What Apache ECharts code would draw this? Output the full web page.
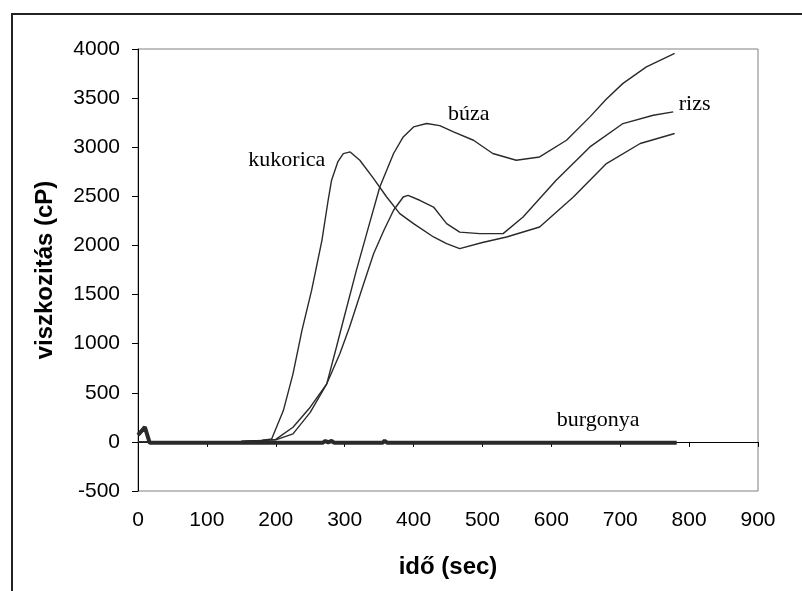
<!DOCTYPE html>
<html>
<head>
<meta charset="utf-8">
<script src="https://cdn.jsdelivr.net/npm/echarts@6/dist/echarts.min.js"></script>
<style>
html,body{margin:0;padding:0;background:#fff;}
#chart{width:802px;height:591px;}
</style>
</head>
<body>
<div id="chart"></div>
<script>
// ---- data (time in sec, viscosity in cP) ----
const kukoricaT = [0, 100, 150, 180, 194, 211, 225, 238, 252, 267, 276, 281, 290, 298, 308, 322, 341, 361, 380, 400, 429, 448, 467, 500, 535, 583, 632, 680, 729, 779];
const kukoricaV = [0, 0, 5, 15, 30, 319, 693, 1135, 1542, 2052, 2460, 2664, 2850, 2935, 2952, 2867, 2690, 2493, 2324, 2222, 2086, 2018, 1967, 2030, 2086, 2188, 2493, 2834, 3038, 3140];

const buzaT = [0, 100, 150, 180, 200, 225, 250, 274, 288, 298, 317, 336, 351, 371, 385, 400, 419, 438, 458, 487, 515, 549, 583, 622, 656, 680, 704, 738, 779];
const buzaV = [0, 0, 5, 15, 20, 82, 300, 591, 964, 1236, 1746, 2222, 2595, 2936, 3105, 3207, 3242, 3220, 3156, 3071, 2936, 2867, 2901, 3071, 3309, 3490, 3650, 3818, 3955];

const rizsT = [0, 100, 150, 180, 200, 225, 250, 274, 293, 307, 326, 342, 357, 371, 385, 392, 409, 429, 448, 467, 496, 530, 559, 607, 656, 704, 748, 777];
const rizsV = [0, 0, 5, 15, 25, 149, 353, 591, 897, 1168, 1576, 1916, 2154, 2358, 2493, 2510, 2460, 2391, 2222, 2136, 2120, 2120, 2290, 2663, 3003, 3241, 3326, 3360];

const burgonyaT = [0, 2, 5, 7, 10, 17, 95, 97, 100, 141, 143, 146, 268, 272, 276, 281, 285, 290, 355, 358, 362, 782];
const burgonyaV = [70, 80, 110, 90, 150, -10, -10, -25, -10, -10, -22, -10, -10, 10, -5, 10, -10, -10, -10, 12, -10, -10];

const xTicks = [0, 100, 200, 300, 400, 500, 600, 700, 800, 900];
const yTicks = [-500, 0, 500, 1000, 1500, 2000, 2500, 3000, 3500, 4000];

const labelNames = ['kukorica', 'búza', 'rizs', 'burgonya'];
const labelX = [216, 480, 808, 668];
const labelY = [2867, 3331, 3433, 220];

function zip(t, v) { return t.map((x, i) => [x, v[i]]); }

const chart = echarts.init(document.getElementById('chart'), null, {renderer: 'canvas'});

const lineCol = '#2a2a2a';
const serif = '"Liberation Serif", "Times New Roman", serif';
const sans = '"Liberation Sans", Arial, sans-serif';

function mkSeries(name, t, v, width, idx) {
  return {
    name: name,
    type: 'line',
    xAxisIndex: 0,
    yAxisIndex: 0,
    data: zip(t, v),
    showSymbol: false,
    symbol: 'none',
    smooth: false,
    lineStyle: {color: lineCol, width: width},
    z: 3,
    markPoint: {
      symbol: 'circle',
      symbolSize: 0,
      silent: true,
      data: [{coord: [labelX[idx], labelY[idx]], value: labelNames[idx]}],
      label: {
        show: true,
        position: 'inside',
        formatter: labelNames[idx],
        fontFamily: serif,
        fontSize: 22,
        color: '#000'
      },
      itemStyle: {color: 'transparent'}
    }
  };
}

const option = {
  animation: false,
  backgroundColor: '#fff',
  grid: {
    left: 138, top: 49, width: 620, height: 442,
    show: true, borderColor: '#808080', borderWidth: 1, backgroundColor: 'transparent',
    containLabel: false
  },
  xAxis: [
    {
      type: 'value', min: xTicks[0], max: xTicks[xTicks.length - 1], interval: 100,
      position: 'bottom',
      axisLine: {show: false, onZero: false},
      axisTick: {show: false},
      splitLine: {show: false},
      axisLabel: {fontFamily: sans, fontSize: 21, color: '#000', margin: 19, formatter: v => String(v)},
      name: 'idő (sec)', nameLocation: 'middle', nameGap: 64,
      nameTextStyle: {fontFamily: sans, fontSize: 24, fontWeight: 'bold', color: '#000'}
    },
    {
      type: 'value', min: xTicks[0], max: xTicks[xTicks.length - 1], interval: 100,
      position: 'bottom',
      axisLine: {show: true, onZero: true, lineStyle: {color: '#000', width: 1}},
      axisTick: {show: true, length: 5, lineStyle: {color: '#000', width: 1}},
      splitLine: {show: false},
      axisLabel: {show: false}
    }
  ],
  yAxis: {
    type: 'value', min: yTicks[0], max: yTicks[yTicks.length - 1], interval: 500,
    axisLine: {show: true, onZero: false, lineStyle: {color: '#000', width: 1}},
    axisTick: {show: true, length: 6, lineStyle: {color: '#000', width: 1}},
    splitLine: {show: false},
    axisLabel: {fontFamily: sans, fontSize: 21, color: '#000', margin: 18, formatter: v => String(v)},
    name: 'viszkozitás (cP)', nameLocation: 'middle', nameGap: 81,
    nameTextStyle: {fontFamily: sans, fontSize: 24, fontWeight: 'bold', color: '#000'}
  },
  graphic: [{
    type: 'rect',
    shape: {x: 12, y: 14, width: 1000, height: 1000},
    style: {fill: 'none', stroke: '#222', lineWidth: 2},
    silent: true
  }],
  series: [
    mkSeries('kukorica', kukoricaT, kukoricaV, 1.4, 0),
    mkSeries('búza', buzaT, buzaV, 1.4, 1),
    mkSeries('rizs', rizsT, rizsV, 1.4, 2),
    mkSeries('burgonya', burgonyaT, burgonyaV, 4, 3)
  ]
};
chart.setOption(option);
</script>
</body>
</html>
